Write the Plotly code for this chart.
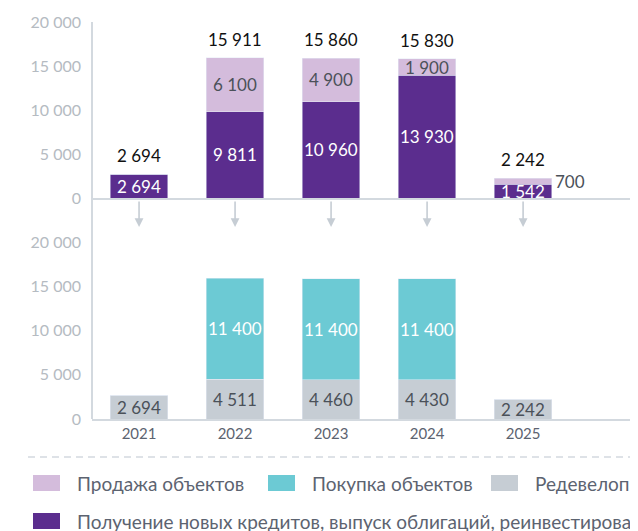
import plotly.graph_objects as go

# data
years = ["2021", "2022", "2023", "2024", "2025"]
new_loans = [2694, 9811, 10960, 13930, 1542]      # Получение новых кредитов...
sales = [0, 6100, 4900, 1900, 700]                # Продажа объектов
redevelopment = [2694, 4511, 4460, 4430, 2242]    # Редевелопмент
purchases = [0, 11400, 11400, 11400, 0]           # Покупка объектов
y_ticks = [0, 5000, 10000, 15000, 20000]

C_DARK = "#5b2d8e"
C_LIGHT = "#d4bcdc"
C_TEAL = "#6ccad4"
C_GRAY = "#c6cdd4"
C_LINE = "#d3d9df"
FONT = "Lato"

W, H = 638, 531
OFF = 8  # the page body has an 8px margin, so the figure starts at (8, 8)


def px(x):
    return (x - OFF) / W


def py(y):
    return 1 - (y - OFF) / H


def fmt(v):
    return f"{v:,}".replace(",", " ")


fig = go.Figure()

fig.add_trace(go.Bar(x=years, y=new_loans, marker_color=C_DARK, width=0.6,
                     xaxis="x", yaxis="y", name="Получение новых кредитов"))
fig.add_trace(go.Bar(x=years, y=sales, marker_color=C_LIGHT, width=0.6,
                     xaxis="x", yaxis="y", name="Продажа объектов"))
fig.add_trace(go.Bar(x=years, y=redevelopment, marker_color=C_GRAY, width=0.6,
                     xaxis="x2", yaxis="y2", name="Редевелопмент"))
fig.add_trace(go.Bar(x=years, y=purchases, marker_color=C_TEAL, width=0.6,
                     xaxis="x2", yaxis="y2", name="Покупка объектов"))

ann = []


def label(x, y, text, color, size=17, xref="x", yref="y", **kw):
    d = dict(x=x, y=y, text=text, xref=xref, yref=yref, showarrow=False,
             font=dict(family=FONT, size=size, color=color))
    d.update(kw)
    ann.append(d)


# annotations on a category axis: use the index, "2021" would be read as a position
for i in range(len(years)):
    # top chart
    label(i, new_loans[i] / 2, fmt(new_loans[i]), "white")
    if sales[i] > 0:
        if sales[i] < 1000:
            label(i + 0.31, new_loans[i] + sales[i] / 2, fmt(sales[i]), "#4b5159",
                  xanchor="left")
        else:
            label(i, new_loans[i] + sales[i] / 2, fmt(sales[i]), "#4b5159")
    total = new_loans[i] + sales[i]
    label(i, total, fmt(total), "#111111", yanchor="bottom", yshift=6)
    # bottom chart
    label(i, redevelopment[i] / 2, fmt(redevelopment[i]), "#4b5159", xref="x2", yref="y2")
    if purchases[i] > 0:
        label(i, redevelopment[i] + purchases[i] / 2, fmt(purchases[i]), "white",
              xref="x2", yref="y2")
    # arrows between the charts
    ann.append(dict(x=i, y=py(227), xref="x", yref="paper", ax=0, ay=-27,
                    showarrow=True, arrowhead=2, arrowsize=1.1, arrowwidth=1.6,
                    arrowcolor=C_GRAY, text=""))

# legend (drawn by hand, runs off the right edge like the original)
legend_items = [
    ("Продажа объектов", C_LIGHT, 33, 483),
    ("Покупка объектов", C_TEAL, 268, 483),
    ("Редевелопмент", C_GRAY, 491, 483),
    ("Получение новых кредитов, выпуск облигаций, реинвестирование", C_DARK, 33, 521),
]
shapes = []
for text, col, lx, ly in legend_items:
    shapes.append(dict(type="rect", xref="paper", yref="paper",
                       x0=px(lx), x1=px(lx + 27), y0=py(ly + 8), y1=py(ly - 8),
                       fillcolor=col, line=dict(width=0)))
    ann.append(dict(x=px(lx + 42), y=py(ly), xref="paper", yref="paper", text=text,
                    showarrow=False, xanchor="left", yanchor="middle",
                    font=dict(family=FONT, size=19, color="#5c6370")))

# dashed separator and vertical axis line
shapes.append(dict(type="line", xref="paper", yref="paper", x0=px(28), x1=1,
                   y0=py(457), y1=py(457), line=dict(color=C_LINE, width=1.5, dash="7px,5px")))
shapes.append(dict(type="line", xref="paper", yref="paper", x0=px(92), x1=px(92),
                   y0=py(22), y1=py(419), line=dict(color=C_LINE, width=2)))

axis_y = dict(range=[0, 20000], tickvals=y_ticks, ticktext=[fmt(v) for v in y_ticks],
              showgrid=False, zeroline=False, showline=False, ticks="", automargin=False,
              tickfont=dict(family=FONT, size=16, color="#b5bbc2"), ticklabelstandoff=10)
axis_x = dict(type="category", range=[-0.49, 5.28], showgrid=False, zeroline=False,
              showline=True, linecolor=C_LINE, linewidth=2, ticks="", automargin=False,
              domain=[px(92), 1])

fig.update_layout(
    width=W, height=H, barmode="stack", showlegend=False,
    margin=dict(l=0, r=0, t=0, b=0, autoexpand=False),
    paper_bgcolor="white", plot_bgcolor="white",
    xaxis=dict(axis_x, anchor="y", showticklabels=False),
    yaxis=dict(axis_y, domain=[py(198), py(22)], anchor="x"),
    xaxis2=dict(axis_x, anchor="y2", showticklabels=True,
                tickfont=dict(family=FONT, size=15, color="#5c6370")),
    yaxis2=dict(axis_y, domain=[py(419), py(242)], anchor="x2"),
    annotations=ann, shapes=shapes,
)

fig.write_html("out.html")
